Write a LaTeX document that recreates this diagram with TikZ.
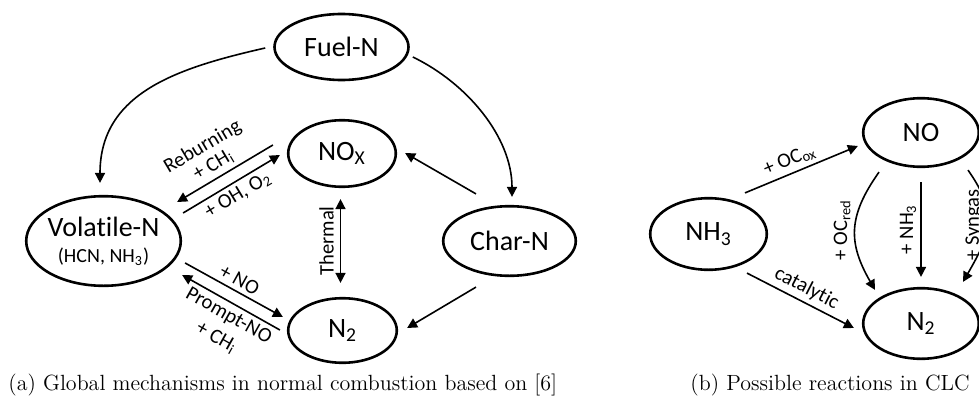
\documentclass[tikz,border=0pt]{standalone}
\usepackage{fontspec}
\newfontfamily\carlito[Ligatures=NoCommon]{Carlito}
\usetikzlibrary{calc}
\usetikzlibrary{shapes.geometric}
\usetikzlibrary{arrows.meta}

\begin{document}
\begin{tikzpicture}[x=0.5pt, y=-0.5pt, > = {Triangle[length=5pt, width=5pt]},
species/.style={ellipse, draw, line width=1.3pt, inner sep=0pt,
                font=\carlito\fontsize{14}{16}\selectfont},
reaction/.style={line width=0.8pt},
lbl/.style={font=\carlito\fontsize{10.3}{12}\selectfont, inner sep=2pt},
caption/.style={anchor=base west, inner sep=0pt, font=\fontsize{11}{13}\selectfont},
]

	\useasboundingbox (0,0) rectangle (979,396);
	\clip (0,0) rectangle (979,396);

	% (a) normal combustion
	\node[species, minimum width=67pt, minimum height=33pt] (fuel-n) at (341.5,47) {Fuel-N};
	\node[species, minimum width=53.8pt, minimum height=33.3pt] (nox) at (342,153.5) {NO\textsubscript{X}};
	\node[species, minimum width=77.3pt, minimum height=44.8pt, inner xsep=-3pt, align=center] (volatile-n) at (103.5,241)
		{Volatile-N\\[-3pt]{\fontsize{10}{12}\selectfont (HCN, NH\textsubscript{3})}};
	\node[species, minimum width=54.3pt, minimum height=32.3pt] (n2-a) at (342.5,330.5) {N\textsubscript{2}};
	\node[species, minimum width=66.3pt, minimum height=34.8pt] (char-n) at (509.5,241) {Char-N};

	\draw[reaction, ->] ($(fuel-n.west)+(-8,1)$) .. controls ($(fuel-n.west)+(-96,21)$) and ($(volatile-n.north)+(-3.5,-102)$) .. ($(volatile-n.north)+(-3.5,-12)$); % to volatiles
	\draw[reaction, ->] ($(fuel-n.east)+(3,10)$) .. controls ($(fuel-n.east)+(57,36)$) and ($(char-n.north)+(2.5,-68)$) .. ($(char-n.north)+(2.5,-8)$); % to char
	\draw[reaction, ->] ($(char-n.north)+(-33.5,-11)$) -- ($(nox.east)+(8,-0.5)$);
	\draw[reaction, ->] ($(char-n.south)+(-33.5,10)$) -- ($(n2-a.east)+(9,-2.5)$);

	\draw[reaction, <->] ($(n2-a.north)+(-2,-14)$) -- ($(nox.south)+(-1.5,11)$) node[lbl, midway, rotate=90, anchor=south, inner sep=3pt] (thermal-node) {Thermal};

	\draw[reaction, ->] ($(nox.west)+(-14,-8.5)$) -- ($(volatile-n.east)+(-5,-39)$) node[lbl, pos=0.55, above, sloped, align=center] (reburning-node) {Reburning\\[-1.5pt]+ CH\textsubscript{i}};
	\draw[reaction, ->] ($(volatile-n.east)+(1,-28)$) -- ($(nox.west)+(-7,1.5)$) node[lbl, midway, below, sloped] (oh-node) {+ OH, O\textsubscript{2}};
	\draw[reaction, ->] ($(volatile-n.east)+(3,22)$) -- ($(n2-a.west)+(-4,-13.5)$) node[lbl, midway, above, sloped] (no-node) {+ NO};
	\draw[reaction, ->] ($(n2-a.west)+(-7,-0.5)$) -- ($(volatile-n.east)+(0,34)$) node[lbl, pos=0.46, below, sloped, align=center] (prompt-node) {Prompt-NO\\[0.5pt]+ CH\textsubscript{i}};

	% (b) chemical looping
	\node[species, minimum width=58.3pt, minimum height=35.8pt] (nh3) at (708.5,234) {NH\textsubscript{3}};
	\node[species, minimum width=57.8pt, minimum height=34.3pt] (no) at (921,132.5) {NO};
	\node[species, minimum width=57.8pt, minimum height=35.3pt] (n2-b) at (921,323.5) {N\textsubscript{2}};

	\draw[reaction, ->] ($(nh3.north)+(36.5,-4)$) -- ($(no.west)+(-4,13.5)$) node[lbl, pos=0.44, above, sloped] (ocox-node) {+ OC\textsubscript{ox}};
	\draw[reaction, ->] ($(nh3.south)+(38.5,2)$) -- ($(n2-b.west)+(-8,4.5)$) node[lbl, midway, above, sloped] (catalytic-node) {catalytic};
	\draw[reaction, ->] ($(no.south)+(0,14)$) -- ($(n2-b.north)+(0,-10)$) node[lbl, midway, rotate=90, anchor=south] (nh3-node) {+ NH\textsubscript{3}};
	\draw[reaction, ->] ($(no.south)+(-42,4)$) .. controls ($(no.south)+(-73.3,48.3)$) and ($(n2-b.north)+(-73,-44)$) .. ($(n2-b.north)+(-46,3)$) node[lbl, pos=0.5, rotate=90, anchor=south] (ocred-node) {+ OC\textsubscript{red}};
	\draw[reaction, ->] ($(no.south)+(47,2)$) .. controls ($(no.south)+(78,46)$) and ($(n2-b.north)+(69,-52)$) .. ($(n2-b.north)+(42,-5)$) node[lbl, pos=0.5, rotate=90, anchor=south] (syngas-node) {+ Syngas};

	\node[caption] (caption-a) at (8,390) {(a) Global mechanisms in normal combustion based on [6]};
	\node[caption] (caption-b) at (690,390) {(b) Possible reactions in CLC};

\end{tikzpicture}
\end{document}
